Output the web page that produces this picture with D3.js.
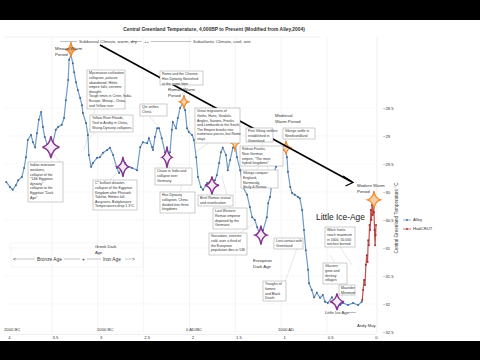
<!DOCTYPE html>
<html><head><meta charset="utf-8">
<script src="https://cdn.jsdelivr.net/npm/d3@7"></script>
<style>html,body{margin:0;padding:0;background:#fff;overflow:hidden}svg{display:block}</style>
</head><body><svg id="c" width="480" height="360"></svg>
<script>
// ---- data ----
const alleyBP = [4030,3990,3960,3925,3900,3860,3835,3815,3795,3760,3740,3715,3695,3675,3650,3630,3610,3575,3520,3490,3465,3425,3400,3380,3355,3345,3325,3305,3290,3270,3250,3225,3205,3195,3160,3140,3130,3105,3085,3040,3010,2975,2930,2900,2865,2825,2800,2735,2705,2660,2605,2570,2540,2495,2475,2440,2430,2410,2385,2365,2335,2300,2280,2245,2225,2215,2180,2160,2135,2105,2080,2060,2040,2005,1985,1960,1940,1910,1885,1840,1810,1755,1735,1710,1690,1670,1635,1615,1590,1560,1535,1515,1480,1450,1405,1375,1350,1320,1295,1265,1230,1190,1175,1155,1135,1125,1090,1070,1035,1015,990,970,960,935,915,885,850,830,805,785,765,740,730,700,675,645,610,580,555,525,480,445,390,360,305,250,195,155];
const alleyT = [-29.82,-29.91,-29.96,-29.88,-29.79,-29.73,-29.57,-29.38,-29.07,-28.98,-29.11,-29.20,-28.95,-28.71,-28.57,-28.84,-29.02,-29.20,-29.11,-28.89,-28.84,-28.80,-28.68,-28.36,-28.00,-27.64,-27.55,-27.70,-27.86,-28.04,-28.18,-28.32,-28.45,-28.59,-28.77,-28.98,-29.34,-29.55,-29.48,-29.39,-29.38,-29.30,-29.25,-29.21,-29.34,-29.57,-29.66,-29.48,-29.55,-29.57,-29.61,-29.20,-29.11,-29.13,-29.04,-29.20,-29.25,-29.02,-28.86,-28.86,-29.04,-29.29,-29.38,-29.29,-28.89,-28.75,-28.86,-28.68,-28.50,-28.41,-28.54,-28.86,-28.93,-28.98,-29.07,-29.38,-29.73,-29.91,-29.96,-29.84,-29.82,-29.79,-29.70,-29.48,-29.29,-29.21,-29.34,-29.61,-29.43,-29.21,-29.13,-29.38,-29.61,-29.91,-30.05,-30.27,-30.45,-30.50,-30.63,-30.77,-30.68,-30.45,-30.20,-30.09,-29.84,-29.73,-29.55,-29.43,-29.38,-29.25,-29.20,-29.38,-29.64,-29.91,-30.02,-30.05,-30.09,-30.11,-30.32,-30.68,-31.04,-31.39,-31.63,-31.75,-31.88,-31.80,-31.89,-31.84,-31.96,-31.98,-31.88,-31.98,-32.02,-31.98,-32.02,-31.98,-32.02,-31.96];
const modernBP = [150,140,130,120,110,100,92,85,78,70,64,56,50,44,36,28,22,16,10,5,0];
const modernT = [-31.93,-31.75,-31.57,-31.66,-31.30,-31.13,-31.25,-30.86,-30.95,-30.59,-30.68,-30.32,-30.50,-30.23,-30.41,-30.14,-30.36,-30.68,-30.95,-30.77,-30.59];
const xTicks = [4,3.5,3,2.5,2,1.5,1,0.5,0];
const xTickLabels = ["4","3.5","3","2.5","2","1.5","1","0.5","0"];
const yTicks = [-28.5,-29,-29.5,-30,-30.5,-31,-31.5,-32,-32.5];
const seriesNames = ["Alley","HadCRUT"];
const warmBP = [3325,2093,1537,981,22];
const warmT = [-27.46,-28.39,-29.13,-29.21,-30.14];
const coldBP = [3543,2758,2278,1788,1254,425];
const coldT = [-29.20,-29.55,-29.38,-29.88,-30.77,-31.96];
const eraLabels = ["2000 BC","1000 BC","0 AD/BC","1000 AD"];

// ---- drawing ----
const svg = d3.select("#c");
const FONT = "'Liberation Sans', Arial, sans-serif";
const x = d3.scaleLinear().domain([4,0]).range([9,376]);
const y = d3.scaleLinear().domain([-28.5,-32.5]).range([108,332]);

svg.append("rect").attr("width",480).attr("height",360).attr("fill","#fff");

// chart frame + gridlines
svg.append("line").attr("x1",4).attr("x2",320).attr("y1",37).attr("y2",37).attr("stroke","#eaeaea").attr("stroke-width",0.6);
svg.append("g").selectAll("line").data(yTicks).join("line")
  .attr("x1",4).attr("x2",377).attr("y1",d=>y(d)).attr("y2",d=>y(d))
  .attr("stroke","#f3f3f3").attr("stroke-width",0.6);
svg.append("g").selectAll("line").data(xTicks.slice(1,-1)).join("line")
  .attr("x1",d=>x(d)-3).attr("x2",d=>x(d)-3).attr("y1",37).attr("y2",333)
  .attr("stroke","#efefef").attr("stroke-width",0.6);

// title
svg.append("text").attr("x",214).attr("y",31).attr("text-anchor","middle")
  .attr("font-family",FONT).attr("font-size",4.9).attr("font-weight","bold").attr("fill","#333")
  .text("Central Greenland Temperature, 4,000BP to Present (Modified from Alley,2004)");

// right axis
const yAxis = d3.axisRight(y).tickValues(yTicks).tickSize(0).tickPadding(5).tickFormat(d3.format(".1~f"));
const ga = svg.append("g").attr("transform","translate(378,0)").call(yAxis);
ga.select(".domain").attr("stroke","none");
ga.selectAll("text").attr("font-family",FONT).attr("font-size",4.2).attr("fill","#333");
svg.append("line").attr("x1",377).attr("x2",377).attr("y1",37).attr("y2",333).attr("stroke","#e4e4e4").attr("stroke-width",0.6);

svg.append("text").attr("transform","translate(398,218) rotate(-90)").attr("text-anchor","middle")
  .attr("font-family",FONT).attr("font-size",4.6).attr("fill","#333").text("Central Greenland Temperature °C");

// bottom axis
const xAxis = d3.axisBottom(x).tickValues(xTicks).tickSize(0).tickPadding(2).tickFormat((d,i)=>xTickLabels[i]);
const gx = svg.append("g").attr("transform","translate(0,334)").call(xAxis);
gx.select(".domain").attr("stroke","#e4e4e4").attr("stroke-width",0.6);
gx.selectAll("text").attr("font-family",FONT).attr("font-size",4.2).attr("fill","#333");

// era labels
const eraX = [4,97,186,278];
svg.append("g").selectAll("text").data(eraLabels).join("text")
  .attr("x",(d,i)=>eraX[i]).attr("y",331).attr("font-family",FONT).attr("font-size",4.2).attr("fill","#333").text(d=>d);
svg.append("text").attr("x",357).attr("y",327).attr("font-family",FONT).attr("font-size",4.2).attr("fill","#333").text("Andy May");

// climate period row
const rowG = svg.append("g").attr("font-family",FONT).attr("font-size",4.4).attr("fill","#444");
[[60,77],[130,142],[151,191]].forEach(s=>rowG.append("line").attr("x1",s[0]).attr("x2",s[1]).attr("y1",41.5).attr("y2",41.5).attr("stroke","#888").attr("stroke-width",0.5));
rowG.append("text").attr("x",79).attr("y",43).text("Subboreal Climate, warm, dry");
rowG.append("text").attr("x",144).attr("y",43).text("++");
rowG.append("text").attr("x",193).attr("y",43).text("Subatlantic Climate, cool, wet");

// Bronze/Iron age row
const ageG = svg.append("g").attr("font-family",FONT).attr("fill","#333");
ageG.append("rect").attr("x",11).attr("y",243).attr("width",132).attr("height",24).attr("fill","none").attr("stroke","#ededed").attr("stroke-width",0.6);
[[14,35],[64,80],[87,101],[125,132]].forEach(s=>ageG.append("line").attr("x1",s[0]).attr("x2",s[1]).attr("y1",259).attr("y2",259).attr("stroke","#888").attr("stroke-width",0.5));
ageG.append("text").attr("x",13).attr("y",260.5).attr("font-size",5).text("<");
ageG.append("text").attr("x",132).attr("y",260.5).attr("font-size",5).text(">");
ageG.append("text").attr("x",83.5).attr("y",261).attr("font-size",5).attr("text-anchor","middle").text("+");
ageG.append("text").attr("x",37).attr("y",261).attr("font-size",4.8).text("Bronze Age");
ageG.append("text").attr("x",103).attr("y",261).attr("font-size",4.8).text("Iron Age");
ageG.append("text").attr("x",95).attr("y",248).attr("font-size",4.2).text("Greek Dark");
ageG.append("text").attr("x",95).attr("y",254).attr("font-size",4.2).text("Age");

// leader lines
const leaders = [[95,109,84,150],[95,132,88,140],[60,162,52,152],[110,180,120,170],[150,117,158,126],[185,84,184,95],[210,142,196,152],[170,168,167,162],[180,192,185,175],[215,205,212,192],[230,208,222,176],[240,233,256,222],[260,166,250,175],[283,133,287,145],[262,142,270,178],[290,249,282,243],[285,282,300,240],[335,263,330,255],[350,285,340,300],[340,247,352,265]];
svg.append("g").selectAll("line").data(leaders).join("line")
  .attr("x1",d=>d[0]).attr("y1",d=>d[1]).attr("x2",d=>d[2]).attr("y2",d=>d[3])
  .attr("stroke","#cfcfcf").attr("stroke-width",0.5);

// series lines
const line = d3.line().x(d=>x(d[0]/1000)).y(d=>y(d[1]));
const alley = alleyBP.map((b,i)=>[b,alleyT[i]]);
const modern = modernBP.map((b,i)=>[b,modernT[i]]);
svg.append("path").datum(alley).attr("d",line).attr("fill","none").attr("stroke","#6f9cc8").attr("stroke-width",1.2);
svg.append("g").selectAll("circle").data(alley).join("circle")
  .attr("cx",d=>x(d[0]/1000)).attr("cy",d=>y(d[1])).attr("r",1).attr("fill","#3f6690");
svg.append("path").datum(modern).attr("d",line).attr("fill","none").attr("stroke","#c0504d").attr("stroke-width",1.2);
svg.append("g").selectAll("circle").data(modern).join("circle")
  .attr("cx",d=>x(d[0]/1000)).attr("cy",d=>y(d[1])).attr("r",1).attr("fill","#9e2f35");

// stars
function star(cx,cy,hw,hh){
  const k=0.16;
  return `M${cx},${cy-hh} Q${cx+hw*k},${cy-hh*k} ${cx+hw},${cy} Q${cx+hw*k},${cy+hh*k} ${cx},${cy+hh} Q${cx-hw*k},${cy+hh*k} ${cx-hw},${cy} Q${cx-hw*k},${cy-hh*k} ${cx},${cy-hh}Z`;
}
const warmSize = [[5,8],[4.5,7],[3.5,8.5],[5,7],[6.5,9]];
const coldSize = [[8.5,11],[6,10],[5,11],[7,9],[6,9.5],[7,8.5]];
warmBP.forEach((b,i)=>svg.append("path").attr("d",star(x(b/1000),y(warmT[i]),warmSize[i][0],warmSize[i][1]))
  .attr("fill",i==0?"#eea766":"#f8cfa4").attr("stroke","#ec8a35").attr("stroke-width",1.2));
coldBP.forEach((b,i)=>svg.append("path").attr("d",star(x(b/1000),y(coldT[i]),coldSize[i][0],coldSize[i][1]))
  .attr("fill","#f4ecf6").attr("stroke","#84338f").attr("stroke-width",1.4));

// diagonal arrow
svg.append("line").attr("x1",100).attr("y1",45).attr("x2",352).attr("y2",182).attr("stroke","#000").attr("stroke-width",1.6);
svg.append("path").attr("d","M343,176 L353,182.5 L345.5,186").attr("fill","none").attr("stroke","#000").attr("stroke-width",1.3);

// text boxes
const boxes = [
 {x:87,y:70,w:38,h:39,t:["Mycenaean civilization","collapses, palaces","abandoned, Hittite","empire falls, extreme","drought.","Tough times in Crete, India,","Europe, Mesop., China,","and Yellow river"]},
 {x:90,y:115,w:43,h:17,t:["Yellow River Floods,","Tied to Aridity in China,","Shang Dynasty collapses."]},
 {x:28,y:162,w:35,h:40,t:["Indian monsoon","weakens,","collapse of the","\"14th Egyptian","dynasty\"","collapse to the","Egyptian \"Dark","Age\""]},
 {x:93,y:180,w:44,h:30,t:["C* bulliant disaster,","collapse of the Egyptian","Kingdom after Pharaoh","Takelot, Hittites fall,","Assyrians, Babylonians","Temperatures drop 1.3°C"]},
 {x:140,y:104,w:27,h:12,t:["Qin unifies","China"]},
 {x:160,y:71,w:43,h:14,t:["Rome and the Chinese","Han Dynasty flourished","at the same time"]},
 {x:195,y:108,w:45,h:35,t:["Great migrations of","Goths, Huns, Vandals,","Angles, Saxons, Franks","and Lombards to the South,","The Empire breaks into","numerous pieces, but Rome","stays"]},
 {x:155,y:168,w:37,h:17,t:["Chaos in India and","collapse over","Germany"]},
 {x:160,y:192,w:35,h:21,t:["Han Dynasty","collapses, China","divided into three","kingdoms"]},
 {x:198,y:195,w:35,h:11,t:["Brief Roman revival","and reunification"]},
 {x:213,y:208,w:34,h:21,t:["Last Western","Roman emperor","deposed by the","Germans"]},
 {x:209,y:233,w:38,h:22,t:["Starvation, extreme","cold, over a third of","the European","population dies in 536"]},
 {x:246,y:128,w:27,h:14,t:["First Viking settlers","established in","Greenland"]},
 {x:240,y:146,w:43,h:20,t:["Robust Franks,","New German","empire, \"The most","hybrid kingdoms\""]},
 {x:241,y:170,w:37,h:18,t:["Vikings conquer","England,","Normandy,","Sicily & Russia"]},
 {x:283,y:128,w:32,h:11,t:["Vikings settle in","Newfoundland"]},
 {x:325,y:227,w:30,h:20,t:["Witch hunts","reach maximum","in 1600, 50,000","witches burned"]},
 {x:274,y:238,w:29,h:11,t:["Lost contact with","Greenland"]},
 {x:263,y:281,w:23,h:20,t:["Troughs of","famine","and Black","Death"]},
 {x:323,y:263,w:24,h:21,t:["Glaciers","grow and","destroy","villages"]},
 {x:339,y:285,w:16,h:10,t:["Maunder","Minimum"]}
];
const bg = svg.append("g").attr("font-family",FONT).attr("fill","#333");
boxes.forEach(b=>{
  bg.append("rect").attr("x",b.x).attr("y",b.y).attr("width",b.w).attr("height",b.h)
    .attr("fill","#fff").attr("stroke","#9a9a9a").attr("stroke-width",0.5);
  b.t.forEach((s,i)=>bg.append("text").attr("x",b.x+2).attr("y",b.y+4.3+i*4.6).attr("font-size",3.5).attr("fill","#333").text(s));
});

// plain labels
const labels = [
 {x:55,y:50,t:"Minoan Warm"},{x:55,y:56,t:"Period"},
 {x:168,y:91,t:"Roman Warm"},{x:168,y:97,t:"Period"},
 {x:275,y:117,t:"Medieval"},{x:275,y:123,t:"Warm Period"},
 {x:357,y:187,t:"Modern Warm"},{x:357,y:193,t:"Period"},
 {x:253,y:262,t:"European"},{x:253,y:268,t:"Dark Age"}
];
svg.append("g").selectAll("text").data(labels).join("text")
  .attr("x",d=>d.x).attr("y",d=>d.y).attr("font-family",FONT).attr("font-size",4.4).attr("fill","#333").text(d=>d.t);

svg.append("text").attr("x",316).attr("y",220).attr("font-family",FONT).attr("font-size",8.4).attr("fill","#222").text("Little Ice-Age");
svg.append("text").attr("x",325).attr("y",314).attr("font-family",FONT).attr("font-size",4.2).attr("fill","#333").text("Little Ice Age");
svg.append("line").attr("x1",349).attr("x2",356).attr("y1",312.5).attr("y2",312.5).attr("stroke","#777").attr("stroke-width",0.5);

// legend
const leg = svg.append("g").attr("font-family",FONT).attr("font-size",4.2).attr("fill","#333");
const legColors = [["#6f9cc8","#3f6690"],["#c0504d","#9e2f35"]];
seriesNames.forEach((n,i)=>{
  const yy = 220 + i*9;
  leg.append("line").attr("x1",403).attr("x2",411).attr("y1",yy).attr("y2",yy).attr("stroke",legColors[i][0]).attr("stroke-width",0.8);
  leg.append("circle").attr("cx",407).attr("cy",yy).attr("r",0.9).attr("fill",legColors[i][1]);
  leg.append("text").attr("x",413).attr("y",yy+1.4).text(n);
});

// black bars (video frame)
svg.append("rect").attr("x",0).attr("y",0).attr("width",480).attr("height",20).attr("fill","#000");
svg.append("rect").attr("x",0).attr("y",341).attr("width",480).attr("height",19).attr("fill","#000");
</script></body></html>
